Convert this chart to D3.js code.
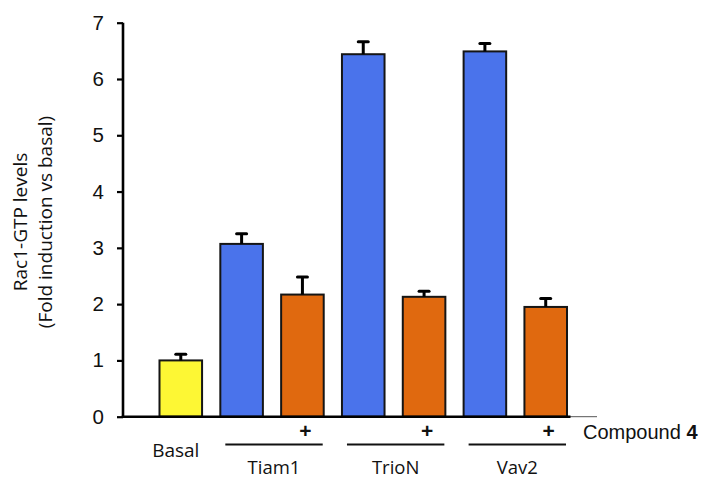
<!DOCTYPE html>
<html>
<head>
<meta charset="utf-8">
<script src="https://cdn.jsdelivr.net/npm/d3@7/dist/d3.min.js"></script>
<style>
  html, body { margin: 0; padding: 0; background: #fff; }
  svg { display: block; }
</style>
</head>
<body>
<svg id="chart" width="702" height="479"></svg>
<script>
// Rac1-GTP fold induction per condition
const barKeys   = ["basal", "tiam1", "tiam1+c4", "trioN", "trioN+c4", "vav2", "vav2+c4"];
const barValues = [1.00, 3.07, 2.17, 6.44, 2.13, 6.49, 1.95];
const barErrors = [0.11, 0.18, 0.31, 0.22, 0.10, 0.14, 0.15];
const barKinds  = ["basal", "gef", "treated", "gef", "treated", "gef", "treated"];

// GEF groups: first and last bar of each pair
const groupNames = ["Tiam1", "TrioN", "Vav2"];
const groupFirst = ["tiam1", "trioN", "vav2"];
const groupLast  = ["tiam1+c4", "trioN+c4", "vav2+c4"];

const yTicks = [0, 1, 2, 3, 4, 5, 6, 7];
const kindColor = { basal: "#fdf734", gef: "#4a73eb", treated: "#e0690f" };

const svg = d3.select("#chart");

const x = d3.scaleBand()
  .domain(barKeys)
  .range([123, 603.5])
  .paddingInner(0.30)
  .paddingOuter(0.60);

const y = d3.scaleLinear().domain([0, 7]).range([416.7, 22.7]);

// y axis
const yAxis = svg.append("g")
  .attr("transform", "translate(123,0)")
  .call(d3.axisLeft(y).tickValues(yTicks).tickFormat(d3.format("d")).tickSize(6).tickPadding(13));
yAxis.select(".domain").attr("stroke", "#000").attr("stroke-width", 2.6)
  .attr("d", `M0,${y(7)}V${y(0)}`);
yAxis.selectAll(".tick line").attr("stroke", "#000").attr("stroke-width", 2.2);
yAxis.selectAll(".tick text")
  .attr("fill", "#111")
  .style("font-family", "'Liberation Sans', Arial, sans-serif")
  .style("font-size", "20.5px");

// bars
svg.append("g").selectAll("rect")
  .data(barKeys)
  .join("rect")
  .attr("x", d => x(d))
  .attr("y", (d, i) => y(barValues[i]))
  .attr("width", x.bandwidth())
  .attr("height", (d, i) => y(0) - y(barValues[i]))
  .attr("fill", (d, i) => kindColor[barKinds[i]])
  .attr("stroke", "#151515")
  .attr("stroke-width", 2);

// upper error bars
const eb = svg.append("g").attr("stroke", "#000").attr("stroke-width", 3);
barKeys.forEach((k, i) => {
  const cx = x(k) + x.bandwidth() / 2;
  const top = y(barValues[i] + barErrors[i]);
  eb.append("line").attr("x1", cx).attr("x2", cx)
    .attr("y1", y(barValues[i])).attr("y2", top);
  eb.append("line").attr("x1", cx - 5).attr("x2", cx + 5)
    .attr("y1", top).attr("y2", top).attr("stroke-linecap", "round");
});

// x axis baseline with a thin extension
const lastEnd = x(barKeys[barKeys.length - 1]) + x.bandwidth();
svg.append("line").attr("x1", lastEnd).attr("x2", lastEnd + 30)
  .attr("y1", y(0)).attr("y2", y(0))
  .attr("stroke", "#555").attr("stroke-width", 1);
svg.append("line").attr("x1", 121.7).attr("x2", lastEnd + 3.5)
  .attr("y1", y(0)).attr("y2", y(0))
  .attr("stroke", "#000").attr("stroke-width", 2.6);

const labelFont = "'Open Sans', sans-serif";

// Basal label
svg.append("text")
  .attr("x", x("basal") + x.bandwidth() / 2 - 5)
  .attr("y", 457)
  .attr("text-anchor", "middle")
  .style("font-family", labelFont).style("font-size", "19px").attr("fill", "#111")
  .text("Basal");

// group brackets, "+" marks and group names
groupNames.forEach((g, i) => {
  const x1 = x(groupFirst[i]) + 5;
  const x2 = x(groupLast[i]) + x.bandwidth() - 1;
  svg.append("line").attr("x1", x1).attr("x2", x2)
    .attr("y1", 444.5).attr("y2", 444.5)
    .attr("stroke", "#111").attr("stroke-width", 2.2);
  svg.append("text")
    .attr("x", (x1 + x2) / 2).attr("y", 474)
    .attr("text-anchor", "middle")
    .style("font-family", labelFont).style("font-size", "18.5px").attr("fill", "#111")
    .text(g);
  svg.append("text")
    .attr("x", x(groupLast[i]) + x.bandwidth() / 2 + 3).attr("y", 438)
    .attr("text-anchor", "middle")
    .style("font-family", "'Liberation Sans', Arial, sans-serif")
    .style("font-size", "21px").style("font-weight", "bold").attr("fill", "#111")
    .text("+");
});

// treatment legend
const comp = svg.append("text")
  .attr("x", 583).attr("y", 439)
  .style("font-family", "'Liberation Sans', Arial, sans-serif")
  .style("font-size", "20px").attr("fill", "#111");
comp.append("tspan").text("Compound ");
comp.append("tspan").style("font-weight", "bold").text("4");

// y axis title
const title = svg.append("text")
  .attr("transform", "translate(0,222) rotate(-90)")
  .attr("text-anchor", "middle")
  .style("font-family", labelFont).style("font-size", "19px").attr("fill", "#111");
title.append("tspan").attr("x", 0).attr("y", 27).text("Rac1-GTP levels");
title.append("tspan").attr("x", 0).attr("y", 51.5).text("(Fold induction vs basal)");
</script>
</body>
</html>
